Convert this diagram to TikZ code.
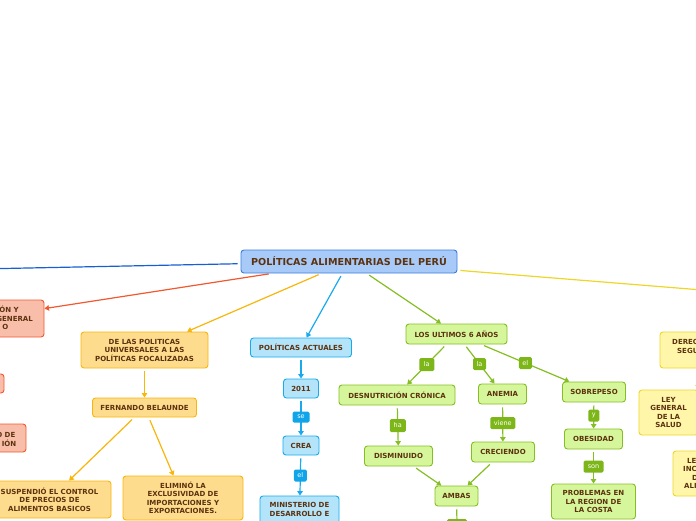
\documentclass[tikz,border=0pt]{standalone}
\usepackage{fontspec}
\setmainfont{DejaVu Sans}
\usetikzlibrary{arrows.meta,calc}
\definecolor{txt}{RGB}{92,50,14}
\definecolor{titlefill}{RGB}{168,202,248}
\definecolor{titleline}{RGB}{58,124,222}
\definecolor{blueline}{RGB}{22,96,210}
\definecolor{redfill}{RGB}{249,190,170}
\definecolor{redline}{RGB}{240,88,48}
\definecolor{orfill}{RGB}{254,220,142}
\definecolor{orline}{RGB}{248,182,10}
\definecolor{cyfill}{RGB}{180,228,250}
\definecolor{cyline}{RGB}{24,170,236}
\definecolor{cylab}{RGB}{16,164,232}
\definecolor{grfill}{RGB}{214,246,156}
\definecolor{grline}{RGB}{132,190,34}
\definecolor{grlab}{RGB}{124,182,24}
\definecolor{yefill}{RGB}{255,246,170}
\definecolor{yeline}{RGB}{238,214,40}
\begin{document}
\begin{tikzpicture}[x=1pt,y=-1pt,
  box/.style={draw, rounded corners=3pt, line width=0.9pt, inner sep=0pt, align=center, text=txt, font=\fontsize{7}{8.5}\selectfont\bfseries},
  wh/.style 2 args={minimum width=#1pt, minimum height=#2pt},
  titlebox/.style={box, fill=titlefill, draw=titleline, font=\fontsize{9.6}{11}\selectfont\bfseries},
  redbox/.style={box, fill=redfill, draw=redline},
  orbox/.style={box, fill=orfill, draw=orline},
  cybox/.style={box, fill=cyfill, draw=cyline},
  grbox/.style={box, fill=grfill, draw=grline},
  yebox/.style={box, fill=yefill, draw=yeline},
  frag/.style={inner sep=0pt, text=txt, align=center, font=\fontsize{7}{8.5}\selectfont\bfseries},
  con/.style={line width=1.2pt, shorten <=3pt},
  arr/.style={con, -{Triangle[width=5.5pt,length=4.5pt]}},
  lab/.style={rounded corners=1.5pt, inner sep=0pt, text=white, font=\fontsize{6.5}{6.5}\selectfont},
]
\useasboundingbox (0,0) rectangle (696,520);

% central topic
\node[titlebox, wh={216}{23}] (title) at (349,261.5) {POLÍTICAS ALIMENTARIAS DEL PERÚ};

% off-page ends
\coordinate (bluefar) at (-100,270.6);
\coordinate (yellowfar) at (800,297.9);

% red branch
\node[redbox, wh={128}{37}] (red1) at (-20,318.5) {};
\node[frag, anchor=base east] (red1a) at (19,312.5) {ÓN Y};
\node[frag, anchor=base east] (red1b) at (33,321) {GENERAL};
\node[frag, anchor=base east] (red1c) at (8.5,329.5) {O};
\node[redbox, wh={54}{19}] (red2) at (-23,383.5) {};
\node[redbox, wh={56}{28}] (red3) at (-2,438) {};
\node[frag, anchor=base east] (red3a) at (15.5,437.5) {O DE};
\node[frag, anchor=base east] (red3b) at (16.5,446) {IÓN};

% orange branch
\node[orbox, wh={127}{36}] (univ) at (144.5,350) {DE LAS POLITICAS\\UNIVERSALES A LAS\\POLÍTICAS FOCALIZADAS};
\node[orbox, wh={104}{19}] (fern) at (144.5,407.5) {FERNANDO BELAUNDE};
\node[orbox, wh={123}{37}] (susp) at (49.5,499.5) {SUSPENDIÓ EL CONTROL\\DE PRECIOS DE\\ALIMENTOS BASICOS};
\node[orbox, wh={120}{44}] (elim) at (183,498) {ELIMINÓ LA\\EXCLUSIVIDAD DE\\IMPORTACIONES Y\\EXPORTACIONES.};

% cyan branch
\node[cybox, wh={101}{19}] (pa) at (301,347.5) {POLÍTICAS ACTUALES};
\node[cybox, wh={35}{19}] (y2011) at (301,388.5) {2011};
\node[cybox, wh={36}{19}] (crea) at (301,445.5) {CREA};
\node[cybox, wh={79}{40}] (mides) at (299.5,516) {};
\node[frag] (midestxt) at (299.5,509.5) {MINISTERIO DE\\DESARROLLO E};

% green branch
\node[grbox, wh={101}{20}] (ult) at (456.5,334) {LOS ULTIMOS 6 AÑOS};
\node[grbox, wh={116}{20}] (desn) at (397,395) {DESNUTRICIÓN CRÓNICA};
\node[grbox, wh={48}{20}] (anem) at (502.5,394) {ANEMIA};
\node[grbox, wh={63}{20}] (sobre) at (594,392) {SOBREPESO};
\node[grbox, wh={68}{20}] (dism) at (398.5,456) {DISMINUIDO};
\node[grbox, wh={63}{20}] (crec) at (503,452) {CRECIENDO};
\node[grbox, wh={58}{20}] (obes) at (593.5,439) {OBESIDAD};
\node[grbox, wh={84}{35}] (prob) at (593.5,501.5) {PROBLEMAS EN\\LA REGION DE\\LA COSTA};
\node[grbox, wh={43}{20}] (ambas) at (456.5,496) {AMBAS};
\node[lab, fill=grlab, wh={20}{11}] (amblab) at (457,524.5) {};

% yellow branch
\node[yebox, wh={78}{36}] (der) at (699,350) {};
\node[frag, anchor=base west] (dera) at (672,344) {DEREC};
\node[frag, anchor=base west] (derb) at (677,353) {SEGU};
\node[yebox, wh={59}{45}] (leyg) at (668.5,412.5) {LEY\\GENERAL\\DE LA\\SALUD};
\node[yebox, wh={57}{45}] (ley3) at (701.5,473.5) {};
\node[frag, anchor=base west] (ley3a) at (687,463) {LE};
\node[frag, anchor=base west] (ley3b) at (683,471.5) {INC};
\node[frag, anchor=base west] (ley3c) at (692,480) {D};
\node[frag, anchor=base west] (ley3d) at (684,488.5) {ALI};
\coordinate (leygin) at (698,372);

% connectors from the centre
\draw[con, blueline] (title) -- (bluefar);
\draw[arr, redline] (title) -- (red1);
\draw[arr, orline] (title) -- (univ);
\draw[arr, cyline] (title) -- (pa);
\draw[arr, grline] (title) -- (ult);
\draw[con, yeline] (title) -- (yellowfar);

% orange connectors
\draw[arr, orline] (univ) -- (fern);
\draw[arr, orline] (fern) -- (susp);
\draw[arr, orline] (fern) -- (elim);

% cyan connectors
\draw[arr, cyline] (pa) -- (y2011);
\draw[arr, cyline] (y2011) -- node[lab, fill=cylab, wh={17}{11}] (lse) {se} (crea);
\draw[arr, cyline] (crea) -- node[lab, fill=cylab, wh={13}{12}] (lel) {el} (mides);

% green connectors
\draw[arr, grline] (ult) -- node[lab, fill=grlab, wh={15}{13}] (lla1) {la} (desn);
\draw[arr, grline] (ult) -- node[lab, fill=grlab, wh={13}{12}] (lla2) {la} (anem);
\draw[arr, grline] (ult) -- node[lab, fill=grlab, wh={13}{12}] (lel2) {el} (sobre);
\draw[arr, grline] (desn) -- node[lab, fill=grlab, wh={16}{13}] (lha) {ha} (dism);
\draw[arr, grline] (anem) -- node[lab, fill=grlab, wh={25}{12}] (lviene) {viene} (crec);
\draw[arr, grline] (sobre) -- node[lab, fill=grlab, wh={11}{12}] (ly) {y} (obes);
\draw[arr, grline] (obes) -- node[lab, fill=grlab, wh={20}{12}] (lson) {son} (prob);
\draw[arr, grline] (dism) -- (ambas);
\draw[arr, grline] (crec) -- (ambas);
\draw[con, grline] (ambas) -- (amblab);

% yellow connector
\draw[arr, yeline, shorten <=0pt] (leygin) -- (leygin |- leyg.north);
\end{tikzpicture}
\end{document}
